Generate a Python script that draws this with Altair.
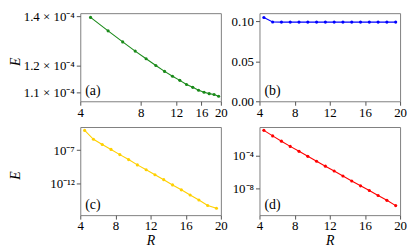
import altair as alt
import pandas as pd

R = [4.5, 5.5, 6.5, 7.5, 8.5, 9.5, 10.5, 11.5, 12.5, 13.5, 14.5, 15.5, 16.5, 17.5, 18.5, 19.5]

E_a = [1.396e-4, 1.338e-4, 1.292e-4, 1.255e-4, 1.225e-4, 1.199e-4, 1.177e-4, 1.159e-4,
       1.144e-4, 1.129e-4, 1.119e-4, 1.109e-4, 1.102e-4, 1.097e-4, 1.094e-4, 1.088e-4]
E_b = [0.1050, 0.0993, 0.0992, 0.0992, 0.0992, 0.0992, 0.0992, 0.0992,
       0.0992, 0.0992, 0.0992, 0.0992, 0.0992, 0.0992, 0.0992, 0.0992]
E_c = [9.33e-5, 4.27e-6, 7.08e-7, 1.26e-7, 2.09e-8, 3.72e-9, 5.89e-10, 1.07e-10,
       1.95e-11, 3.47e-12, 5.62e-13, 1.02e-13, 1.66e-14, 3.02e-15, 4.47e-16, 1.70e-16]
E_d = [1.41e-1, 2.95e-2, 6.61e-3, 1.51e-3, 3.72e-4, 9.12e-5, 2.29e-5, 5.62e-6,
       1.41e-6, 3.47e-7, 8.51e-8, 2.14e-8, 5.75e-9, 1.41e-9, 3.55e-10, 7.94e-11]

X_TICKS = [4, 8, 12, 16, 20]
A_TICKS = [1.1e-4, 1.2e-4, 1.4e-4]
A_LABELS = ["1.1 × 10⁻⁴", "1.2 × 10⁻⁴", "1.4 × 10⁻⁴"]
B_TICKS = [0.0, 0.05, 0.10]
B_LABELS = ["0.00", "0.05", "0.10"]
C_TICKS = [1e-12, 1e-7]
C_LABELS = ["10⁻¹²", "10⁻⁷"]
D_TICKS = [1e-8, 1e-4]
D_LABELS = ["10⁻⁸", "10⁻⁴"]

FONT = "Liberation Serif"
W, H = 142, 89
GRAY = "#808080"


def label_expr(vals, labels):
    v = "[" + ",".join(repr(x) for x in vals) + "]"
    l = "[" + ",".join("'" + s + "'" for s in labels) + "]"
    return f"{l}[indexof({v}, datum.value)]"


def panel(E, color, xlog, ydomain, ylog, yticks, ylabels, tag, xtitle, ytitle, left):
    df = pd.DataFrame({"R": R, "E": E})
    xscale = alt.Scale(type="log", domain=[4, 20], nice=False) if xlog else alt.Scale(domain=[4, 20], nice=False)
    yscale = alt.Scale(type="log" if ylog else "linear", domain=ydomain, nice=False, zero=False)
    xaxis = alt.Axis(values=X_TICKS, format="d", title=xtitle)
    yaxis = alt.Axis(values=yticks, labelExpr=label_expr(yticks, ylabels), title=ytitle,
                     minExtent=56 if left else 28, maxExtent=56 if left else 28,
                     titleY=H / 2 + 4)
    base = alt.Chart(df)
    enc = dict(x=alt.X("R:Q", scale=xscale, axis=xaxis),
               y=alt.Y("E:Q", scale=yscale, axis=yaxis))
    line = base.mark_line(color=color, strokeWidth=1.1, clip=True).encode(**enc)
    pts = base.mark_point(filled=True, color=color, size=10, opacity=1, clip=True).encode(**enc)
    txt = alt.Chart(pd.DataFrame({"t": [tag]})).mark_text(
        align="left", baseline="alphabetic", font=FONT, fontSize=14, color="black"
    ).encode(text="t:N", x=alt.value(5), y=alt.value(H - 6))
    return alt.layer(line, pts, txt).properties(width=W, height=H)


a = panel(E_a, "#1a8a1a", True, [1.0708e-4, 1.415e-4], True, A_TICKS, A_LABELS, "(a)", None, "E", True)
b = panel(E_b, "#0000ff", False, [0, 0.1104], False, B_TICKS, B_LABELS, "(b)", None, None, False)
c = panel(E_c, "#ffd000", False, [10 ** -16.81, 10 ** -3.52], True, C_TICKS, C_LABELS, "(c)", "R", "E", True)
d = panel(E_d, "#ff0000", False, [10 ** -11.27, 10 ** -0.44], True, D_TICKS, D_LABELS, "(d)", "R", None, False)

chart = alt.concat(a, b, c, d, columns=2, spacing={"row": 26, "column": 39}, bounds="flush").properties(
    padding=0, background="white"
).configure_view(stroke=GRAY, strokeWidth=1).configure_axis(
    grid=False, domain=False, tickSize=4, tickColor="#555555",
    labelFont=FONT, labelFontSize=13, labelColor="black", labelPadding=2,
    labelFlush=False, labelOverlap=False,
    titleFont=FONT, titleFontSize=14, titleFontStyle="italic",
    titleFontWeight="normal", titleColor="black", titlePadding=2,
).configure_axisX(labelPadding=1, titlePadding=1)

chart.save("out.html", embed_options={"renderer": "svg", "actions": False})
